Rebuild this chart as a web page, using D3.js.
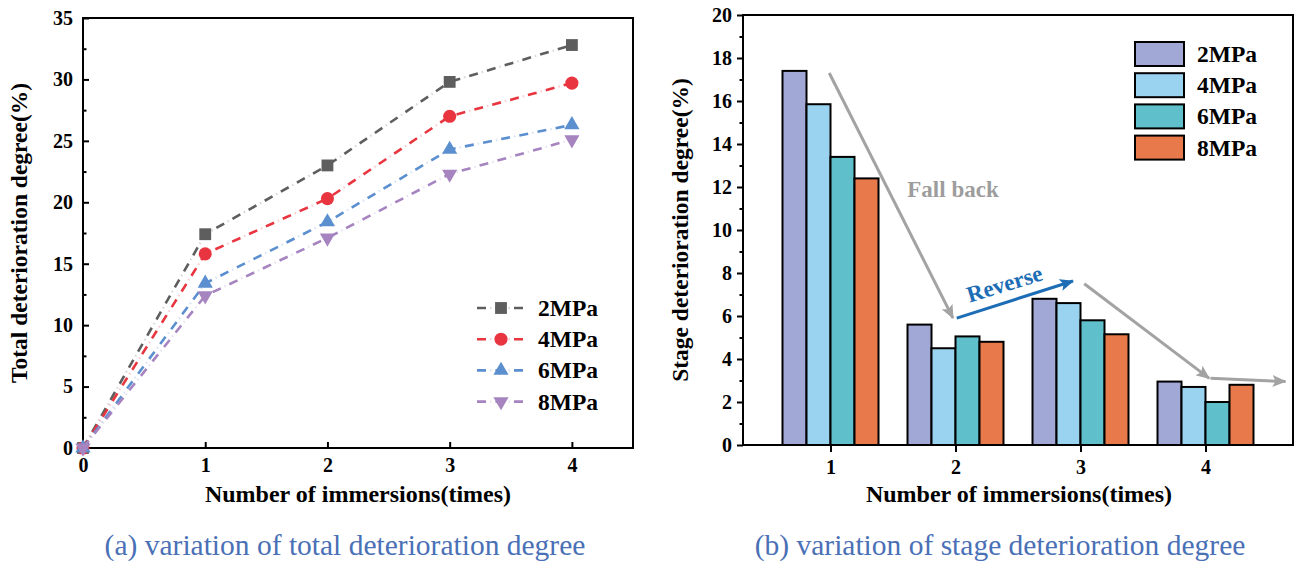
<!DOCTYPE html>
<html>
<head>
<meta charset="utf-8">
<script src="https://cdn.jsdelivr.net/npm/d3@7"></script>
<style>
  body { margin: 0; background: #fff; }
  text { font-family: "Liberation Serif", "Times New Roman", Times, "DejaVu Serif", serif; }
</style>
</head>
<body>
<svg id="chart" width="1304" height="562"></svg>
<script>
// data
var times = [0, 1, 2, 3, 4];
var stages = [1, 2, 3, 4];
var seriesNames = ['2MPa', '4MPa', '6MPa', '8MPa'];

var total2 = [0, 17.4, 23.0, 29.8, 32.8];
var total4 = [0, 15.8, 20.3, 27.0, 29.7];
var total6 = [0, 13.4, 18.4, 24.3, 26.3];
var total8 = [0, 12.4, 17.1, 22.3, 25.1];

var stage2 = [17.4, 5.6, 6.8, 2.95];
var stage4 = [15.85, 4.5, 6.6, 2.7];
var stage6 = [13.4, 5.05, 5.8, 2.0];
var stage8 = [12.4, 4.8, 5.15, 2.8];

var leftYTicks = [0, 5, 10, 15, 20, 25, 30, 35];
var rightYTicks = [0, 2, 4, 6, 8, 10, 12, 14, 16, 18, 20];

// annotation arrows, in data units of the right chart
var fallBack = [[0.99, 17.3], [1.98, 5.9]];
var reverse = [[2.01, 5.9], [2.94, 7.63]];
var fallBack2 = [[3.03, 7.5], [4.03, 3.1]];
var flatOut = [[4.04, 3.1], [4.64, 2.95]];

var lineColors = ['#5e5e5e', '#e8353f', '#5b8fcf', '#a584bf'];
var barColors = ['#a1a8d6', '#9ad3f0', '#5fbfcb', '#e8794a'];

var svg = d3.select('#chart');

var defs = svg.append('defs');
function arrowHead(id, color) {
  defs.append('marker')
    .attr('id', id)
    .attr('markerUnits', 'userSpaceOnUse')
    .attr('viewBox', '0 0 14 12')
    .attr('refX', 13).attr('refY', 6)
    .attr('markerWidth', 14).attr('markerHeight', 12)
    .attr('orient', 'auto')
    .append('path')
    .attr('d', 'M0,0 L14,6 L0,12 L3,6 Z')
    .attr('fill', color);
}
arrowHead('grayHead', '#a3a3a3');
arrowHead('blueHead', '#1c6db5');

// ---------------- left: total deterioration ----------------
var xL = d3.scaleLinear().domain([0, 4.5]).range([83, 633]);
var yL = d3.scaleLinear().domain([0, 35]).range([448, 18]);

var left = svg.append('g');

left.append('g')
  .attr('transform', 'translate(0,' + yL(0) + ')')
  .call(d3.axisBottom(xL).tickValues(times).tickSize(-6).tickPadding(10).tickFormat(d3.format('d')))
  .call(styleAxis);

left.append('g')
  .attr('transform', 'translate(' + xL(0) + ',0)')
  .call(d3.axisLeft(yL).tickValues(d3.range(2.5, 35, 5)).tickSize(-3.5).tickFormat(''))
  .call(styleAxis);

left.append('g')
  .attr('transform', 'translate(' + xL(0) + ',0)')
  .call(d3.axisLeft(yL).tickValues(leftYTicks).tickSize(-6).tickPadding(10))
  .call(styleAxis);

left.append('path')
  .attr('d', 'M' + xL(0) + ',' + yL(0) + 'V' + yL(35) + 'H' + xL(4.5) + 'V' + yL(0) + 'Z')
  .attr('fill', 'none').attr('stroke', '#000').attr('stroke-width', 2);

var totals = [total2, total4, total6, total8];
var symbols = [d3.symbolSquare, d3.symbolCircle, d3.symbolTriangle, d3.symbolTriangle];
var symSizes = [140, 135, 100, 100];
var line = d3.line().x(function (d, i) { return xL(times[i]); }).y(function (d) { return yL(d); });

function dashedLine(g, d, color) {
  g.append('path').attr('d', d).attr('fill', 'none')
    .attr('stroke', color).attr('stroke-width', 2.6)
    .attr('stroke-dasharray', '9,9.5');
  g.append('path').attr('d', d).attr('fill', 'none')
    .attr('stroke', color).attr('stroke-width', 2.2).attr('opacity', 0.25)
    .attr('stroke-dasharray', '1.5,17').attr('stroke-dashoffset', -13);
}

function marker(g, i, x, y) {
  var rot = i === 3 ? ' rotate(180)' : '';
  g.append('path')
    .attr('d', d3.symbol().type(symbols[i]).size(symSizes[i])())
    .attr('transform', 'translate(' + x + ',' + y + ')' + rot)
    .attr('fill', lineColors[i]);
}

totals.forEach(function (vals, i) {
  var g = left.append('g');
  dashedLine(g, line(vals), lineColors[i]);
  vals.forEach(function (v, j) { marker(g, i, xL(times[j]), yL(v)); });
});

// left legend
seriesNames.forEach(function (name, i) {
  var y = 308 + i * 31.2;
  var g = left.append('g');
  dashedLine(g, 'M477,' + y + 'H526', lineColors[i]);
  marker(g, i, 501, y);
  g.append('text').attr('x', 538).attr('y', y + 8)
    .attr('font-size', 23.5).attr('font-weight', 'bold').text(name);
});

left.append('text')
  .attr('transform', 'translate(27,' + yL(17.5) + ') rotate(-90)')
  .attr('text-anchor', 'middle').attr('font-size', 23.5).attr('font-weight', 'bold')
  .text('Total deterioration degree(%)');

left.append('text')
  .attr('x', 358).attr('y', 502)
  .attr('text-anchor', 'middle').attr('font-size', 24).attr('font-weight', 'bold')
  .text('Number of immersions(times)');

// ---------------- right: stage deterioration ----------------
var xR = d3.scaleLinear().domain([0.3, 4.7]).range([743, 1293]);
var yR = d3.scaleLinear().domain([0, 20]).range([445, 15]);
var barW = xR(1.192) - xR(1);

var right = svg.append('g');

var stageSets = [stage2, stage4, stage6, stage8];
stageSets.forEach(function (vals, i) {
  right.append('g').selectAll('rect')
    .data(vals)
    .join('rect')
    .attr('x', function (d, j) { return xR(stages[j]) + (i - 2) * barW; })
    .attr('y', function (d) { return yR(d); })
    .attr('width', barW)
    .attr('height', function (d) { return yR(0) - yR(d); })
    .attr('fill', barColors[i])
    .attr('stroke', '#000').attr('stroke-width', 2);
});

right.append('g')
  .attr('transform', 'translate(0,' + yR(0) + ')')
  .call(d3.axisBottom(xR).tickValues(stages).tickSize(7).tickPadding(8).tickFormat(d3.format('d')))
  .call(styleAxis);

right.append('g')
  .attr('transform', 'translate(' + xR(0.3) + ',0)')
  .call(d3.axisLeft(yR).tickValues(d3.range(1, 20, 2)).tickSize(3.5).tickFormat(''))
  .call(styleAxis);

right.append('g')
  .attr('transform', 'translate(' + xR(0.3) + ',0)')
  .call(d3.axisLeft(yR).tickValues(rightYTicks).tickSize(6).tickPadding(5))
  .call(styleAxis);

right.append('path')
  .attr('d', 'M' + xR(0.3) + ',' + yR(0) + 'V' + yR(20) + 'H' + xR(4.7) + 'V' + yR(0) + 'Z')
  .attr('fill', 'none').attr('stroke', '#000').attr('stroke-width', 2);

// annotations
var aLine = d3.line().x(function (d) { return xR(d[0]); }).y(function (d) { return yR(d[1]); });
[fallBack, fallBack2, flatOut].forEach(function (pts) {
  right.append('path').attr('d', aLine(pts))
    .attr('stroke', '#a3a3a3').attr('stroke-width', 3).attr('fill', 'none')
    .attr('marker-end', 'url(#grayHead)');
});
right.append('path').attr('d', aLine(reverse))
  .attr('stroke', '#1c6db5').attr('stroke-width', 3).attr('fill', 'none')
  .attr('marker-end', 'url(#blueHead)');

right.append('text')
  .attr('x', xR(1.98)).attr('y', yR(11.55))
  .attr('text-anchor', 'middle').attr('font-size', 23).attr('font-weight', 'bold')
  .attr('fill', '#9d9d9d').text('Fall back');

right.append('text')
  .attr('transform', 'translate(' + xR(2.41) + ',' + yR(7.15) + ') rotate(-17)')
  .attr('text-anchor', 'middle').attr('font-size', 23).attr('font-weight', 'bold')
  .attr('fill', '#1c6db5').text('Reverse');

// right legend
seriesNames.forEach(function (name, i) {
  var y = 42 + i * 31.2;
  right.append('rect').attr('x', 1135).attr('y', y).attr('width', 49).attr('height', 24)
    .attr('fill', barColors[i]).attr('stroke', '#000').attr('stroke-width', 2);
  right.append('text').attr('x', 1197).attr('y', y + 20)
    .attr('font-size', 23.5).attr('font-weight', 'bold').text(name);
});

right.append('text')
  .attr('transform', 'translate(688,' + yR(10) + ') rotate(-90)')
  .attr('text-anchor', 'middle').attr('font-size', 23.5).attr('font-weight', 'bold')
  .text('Stage deterioration degree(%)');

right.append('text')
  .attr('x', 1019).attr('y', 502)
  .attr('text-anchor', 'middle').attr('font-size', 24).attr('font-weight', 'bold')
  .text('Number of immersions(times)');

// captions
svg.append('text').attr('x', 345).attr('y', 555)
  .attr('text-anchor', 'middle').attr('font-size', 29.5).attr('fill', '#4a70b6')
  .text('(a) variation of total deterioration degree');
svg.append('text').attr('x', 1000).attr('y', 555)
  .attr('text-anchor', 'middle').attr('font-size', 29.5).attr('fill', '#4a70b6')
  .text('(b) variation of stage deterioration degree');

function styleAxis(g) {
  g.attr('font-family', null);
  g.select('.domain').remove();
  g.selectAll('.tick line').attr('stroke', '#000').attr('stroke-width', 2);
  g.selectAll('.tick text')
    .attr('font-size', 20).attr('font-weight', 'bold').attr('fill', '#000');
}
</script>
</body>
</html>
